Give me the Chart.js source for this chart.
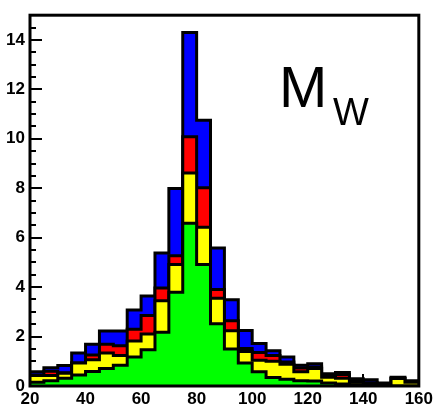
<!DOCTYPE html>
<html>
<head>
<meta charset="utf-8">
<script src="https://cdn.jsdelivr.net/npm/chart.js@4/dist/chart.umd.min.js"></script>
<style>
  body { margin: 0; background: #fff; }
  #wrap { width: 436px; height: 410px; }
</style>
</head>
<body>
<div id="wrap"><canvas id="myChart" width="436" height="410"></canvas></div>
<script>
// lower edge of each 5 GeV bin
const binLo = [20,25,30,35,40,45,50,55,60,65,70,75,80,85,90,95,100,105,110,115,120,125,130,135,140,145,150,155];
const binHi = 160;

// contributions per bin (stacked, green at the bottom)
const verde    = [0.15,0.21,0.31,0.45,0.59,0.71,0.84,1.17,1.47,2.17,3.79,6.58,4.91,2.52,1.50,0.93,0.58,0.34,0.27,0.21,0.20,0.12,0.08,0.05,0.02,0.00,0.00,0.00];
const amarillo = [0.27,0.21,0.21,0.48,0.47,0.62,0.39,0.65,0.63,1.28,1.13,2.04,1.51,1.03,0.73,0.47,0.46,0.66,0.61,0.37,0.51,0.23,0.23,0.10,0.08,0.05,0.30,0.15];
const rojo     = [0.02,0.18,0.02,0.00,0.19,0.36,0.40,0.48,0.75,0.51,0.35,1.46,1.60,0.35,0.41,0.12,0.32,0.23,0.09,0.15,0.06,0.03,0.16,0.03,0.03,0.01,0.01,0.01];
const azul     = [0.14,0.14,0.29,0.41,0.44,0.53,0.59,0.77,0.79,1.42,2.72,4.22,2.73,1.68,0.85,0.73,0.36,0.20,0.20,0.11,0.13,0.12,0.08,0.11,0.12,0.06,0.04,0.05];

const xTicks = [20,40,60,80,100,120,140,160];
const yTicks = [0,2,4,6,8,10,12,14];

// puntos en los bordes de bin, el ultimo repite el valor final
function puntos(vals){
  let p = binLo.map((x, i) => ({x: x, y: vals[i]}));
  p.push({x: binHi, y: vals[vals.length-1]});
  return p;
}

function serie(label, color, vals){
  return {
    label: label,
    data: puntos(vals),
    stepped: 'before',
    fill: 'origin',
    backgroundColor: color,
    borderColor: '#000',
    borderWidth: 3,
    pointRadius: 0,
    tension: 0
  };
}

// ticks hacia adentro como en ROOT
const ticksAdentro = {
  id: 'ticksAdentro',
  beforeDatasetsDraw(chart){
    const {ctx, chartArea, scales} = chart;
    ctx.save();
    ctx.strokeStyle = '#000';
    ctx.lineWidth = 2;
    ctx.beginPath();
    for (let v = 0; v <= 15; v += 0.5){
      const y = Math.round(scales.y.getPixelForValue(v));
      const len = (v % 2 === 0) ? 12 : 6;
      ctx.moveTo(chartArea.left, y);
      ctx.lineTo(chartArea.left + len, y);
    }
    for (let v = 20; v <= 160; v += 5){
      const x = Math.round(scales.x.getPixelForValue(v));
      const len = (v % 20 === 0) ? 12 : 6;
      ctx.moveTo(x, chartArea.bottom);
      ctx.lineTo(x, chartArea.bottom - len);
    }
    ctx.stroke();
    ctx.restore();
  },
  afterDraw(chart){
    const {ctx, chartArea} = chart;
    ctx.save();
    ctx.strokeStyle = '#000';
    ctx.lineWidth = 3;
    ctx.strokeRect(chartArea.left, chartArea.top, chartArea.right - chartArea.left, chartArea.bottom - chartArea.top);
    // etiqueta M_W
    ctx.fillStyle = '#000';
    ctx.textBaseline = 'alphabetic';
    ctx.font = '58px "Liberation Sans", Arial, sans-serif';
    ctx.fillText('M', 279, 107);
    ctx.font = '38px "Liberation Sans", Arial, sans-serif';
    ctx.fillText('W', 333, 125);
    ctx.restore();
  }
};

const ctx = document.querySelector('#myChart').getContext('2d');
const myChart = new Chart(ctx, {
  type: 'line',
  data: {
    datasets: [
      serie('verde', '#00ff00', verde),
      serie('amarillo', '#ffff00', amarillo),
      serie('rojo', '#ff0000', rojo),
      serie('azul', '#0000ff', azul)
    ]
  },
  options: {
    responsive: false,
    animation: false,
    layout: { padding: { top: 4, right: 13, left: 0, bottom: 0 } },
    plugins: {
      legend: { display: false },
      tooltip: { enabled: false },
      filler: { propagate: false }
    },
    scales: {
      x: {
        type: 'linear',
        min: 20,
        max: 160,
        grid: { display: false, drawTicks: false },
        border: { display: false },
        afterBuildTicks: s => { s.ticks = xTicks.map(v => ({value: v})); },
        afterFit: s => { s.height = 24; },
        ticks: {
          color: '#000',
          padding: 3,
          maxRotation: 0,
          autoSkip: false,
          font: { family: '"Liberation Sans", Arial, sans-serif', size: 17, weight: 'bold' }
        }
      },
      y: {
        type: 'linear',
        stacked: true,
        min: 0,
        max: 15,
        grid: { display: false, drawTicks: false },
        border: { display: false },
        afterBuildTicks: s => { s.ticks = yTicks.map(v => ({value: v})); },
        afterFit: s => { s.width = 30; },
        ticks: {
          color: '#000',
          padding: 5,
          font: { family: '"Liberation Sans", Arial, sans-serif', size: 17, weight: 'bold' }
        }
      }
    }
  },
  plugins: [ticksAdentro]
});
</script>
</body>
</html>
